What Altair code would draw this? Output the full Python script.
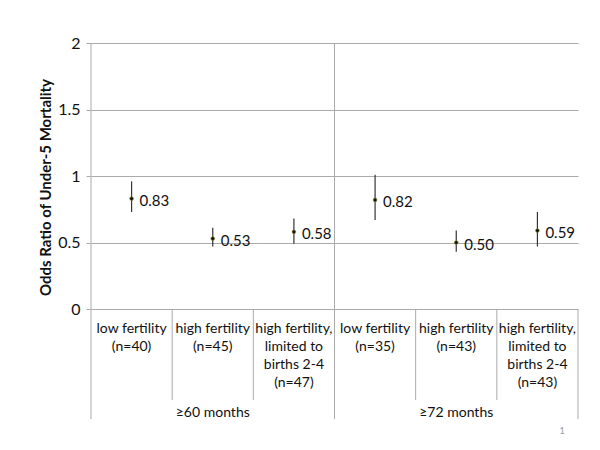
import altair as alt
import pandas as pd

# ---- data ----
cat_labels = [
    "low fertility\n(n=40)",
    "high fertility\n(n=45)",
    "high fertility,\nlimited to\nbirths 2-4\n(n=47)",
    "low fertility\n(n=35)",
    "high fertility\n(n=43)",
    "high fertility,\nlimited to\nbirths 2-4\n(n=43)",
]
groups = ["≥60 months", "≥72 months"]
odds = [0.83, 0.53, 0.58, 0.82, 0.50, 0.59]
lower = [0.73, 0.47, 0.49, 0.67, 0.43, 0.47]
upper = [0.96, 0.61, 0.68, 1.01, 0.59, 0.73]
value_labels = ["0.83", "0.53", "0.58", "0.82", "0.50", "0.59"]

n = len(odds)
W, H = 487, 266
FONT = "Lato"

pts = pd.DataFrame({
    "pos": [i + 0.5 for i in range(n)],
    "or": odds, "lo": lower, "hi": upper,
    "lab": value_labels, "cat": cat_labels,
})
grp = pd.DataFrame({"pos": [1.5, 4.5], "g": groups})
inner = pd.DataFrame({"b": [1, 2, 4, 5]})
mid = pd.DataFrame({"b": [3]})

xs = alt.Scale(domain=[0, n])
ys = alt.Scale(domain=[0, 2])

base = alt.Chart(pts)

yaxis = alt.Axis(
    values=[0, 0.5, 1, 1.5, 2], format="~g", grid=True, gridColor="#aaaaaa",
    gridWidth=1, domain=False, tickColor="#aaaaaa", tickSize=5,
    labelFontSize=16, labelColor="#111111", labelPadding=6, labelFont=FONT,
    title="Odds Ratio of Under-5 Mortality", titleFont=FONT, titleFontSize=15,
    titleFontWeight="bold", titleColor="#111111", titleAngle=-90,
    titleX=-46, titleY=144, titleAlign="center", titleBaseline="middle",
)

grid_layer = base.mark_rule(opacity=0).encode(
    x=alt.X("pos:Q", scale=xs, axis=None),
    y=alt.Y("or:Q", scale=ys, axis=yaxis),
)

err = base.mark_rule(color="#333333", strokeWidth=1.2).encode(
    x=alt.X("pos:Q", scale=xs), y=alt.Y("lo:Q", scale=ys), y2="hi:Q")

dots = base.mark_point(filled=True, color="#111100", size=14, opacity=1,
                       stroke="#8a8a30", strokeWidth=0.6).encode(
    x=alt.X("pos:Q", scale=xs), y=alt.Y("or:Q", scale=ys))

vals = base.mark_text(align="left", baseline="middle", dx=8, dy=2,
                      fontSize=15, font=FONT, color="#111111").encode(
    x=alt.X("pos:Q", scale=xs), y=alt.Y("or:Q", scale=ys), text="lab:N")

cats = base.mark_text(align="center", baseline="top", lineBreak="\n",
                      lineHeight=18, fontSize=14, font=FONT,
                      color="#111111").encode(
    x=alt.X("pos:Q", scale=xs), y=alt.value(H + 13), text="cat:N")

glabs = alt.Chart(grp).mark_text(align="center", baseline="middle",
                                 fontSize=14, font=FONT,
                                 color="#111111").encode(
    x=alt.X("pos:Q", scale=xs), y=alt.value(H + 104), text="g:N")

sep_inner = alt.Chart(inner).mark_rule(color="#aaaaaa", strokeWidth=1).encode(
    x=alt.X("b:Q", scale=xs), y=alt.value(H), y2=alt.value(H + 91))
sep_left = alt.Chart(pd.DataFrame({"b": [0]})).mark_rule(
    color="#aaaaaa", strokeWidth=1).encode(
    x=alt.X("b:Q", scale=xs), y=alt.value(0), y2=alt.value(H + 110))
sep_right = alt.Chart(pd.DataFrame({"b": [n]})).mark_rule(
    color="#aaaaaa", strokeWidth=1).encode(
    x=alt.X("b:Q", scale=xs), y=alt.value(H), y2=alt.value(H + 110))
sep_mid = alt.Chart(mid).mark_rule(color="#aaaaaa", strokeWidth=1).encode(
    x=alt.X("b:Q", scale=xs), y=alt.value(0), y2=alt.value(H + 110))

page = alt.Chart(pd.DataFrame({"t": ["1"]})).mark_text(
    fontSize=9, font=FONT, color="#999999", align="center",
    baseline="middle").encode(
    x=alt.value(471), y=alt.value(388), text="t:N")

chart = alt.layer(
    grid_layer, sep_inner, sep_left, sep_right, sep_mid,
    err, dots, vals, cats, glabs, page,
).properties(
    width=W, height=H,
    autosize=alt.AutoSizeParams(type="none"),
    padding={"left": 83, "top": 35, "right": 14, "bottom": 135},
    background="white",
).configure_view(stroke=None)

chart.save("out.html", embed_options={"renderer": "svg", "actions": False})
